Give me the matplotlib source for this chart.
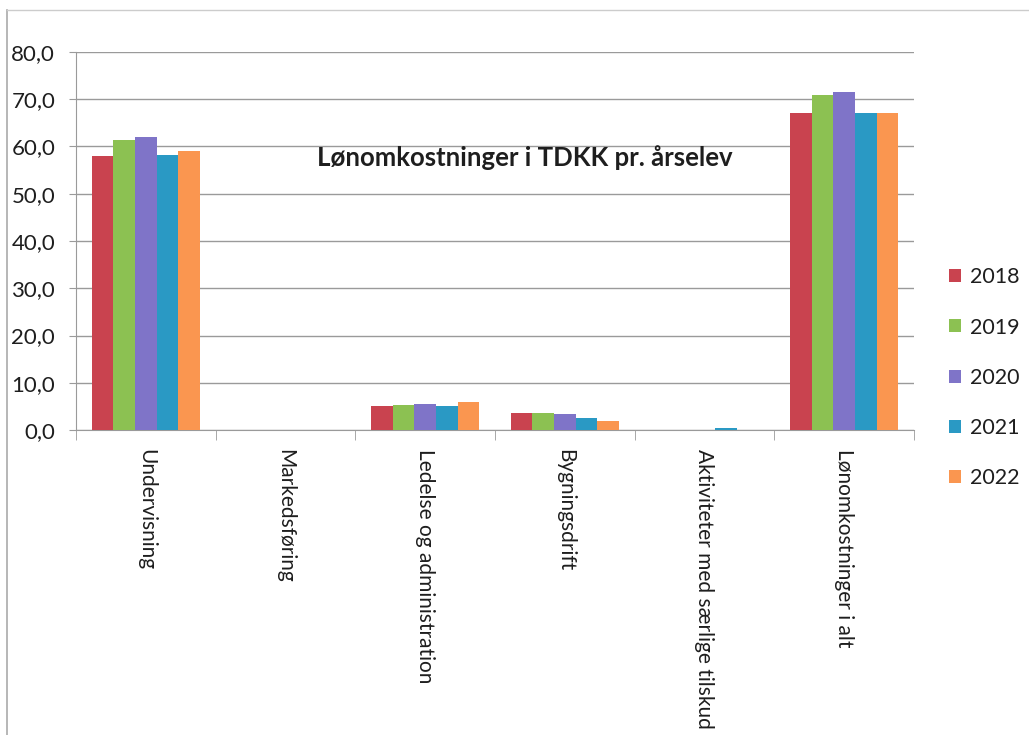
import numpy as np
import matplotlib
matplotlib.use("Agg")
import matplotlib.pyplot as plt
from matplotlib.patches import Patch
from matplotlib.lines import Line2D

# Salary costs per full-year student (TDKK), by area and year
categories = ["Undervisning", "Markedsføring", "Ledelse og administration",
              "Bygningsdrift", "Aktiviteter med særlige tilskud", "Lønomkostninger i alt"]
years = ["2018", "2019", "2020", "2021", "2022"]
v2018 = [57.9, 0.0, 5.1, 3.7, 0.0, 67.1]
v2019 = [61.4, 0.0, 5.3, 3.7, 0.0, 70.8]
v2020 = [62.0, 0.0, 5.6, 3.4, 0.0, 71.5]
v2021 = [58.3, 0.0, 5.1, 2.5, 0.4, 67.0]
v2022 = [59.0, 0.0, 5.9, 1.8, 0.0, 67.0]
yticks = [0, 10, 20, 30, 40, 50, 60, 70, 80]

series = [v2018, v2019, v2020, v2021, v2022]
colors = ["#C9434F", "#8CC152", "#7F74C8", "#2A99C4", "#FA9650"]
txt = "#1e1e1e"

plt.rcParams["font.family"] = ["Lato", "DejaVu Sans"]

fig = plt.figure(figsize=(10.29, 7.35), dpi=100)
W, H = 1029, 735
ax = fig.add_axes([76 / W, 1 - 430 / H, (914 - 76) / W, (430 - 52) / H])

x = np.arange(len(categories))
bw = 0.155
for i, (vals, c) in enumerate(zip(series, colors)):
    ax.bar(x + (i - 2) * bw, vals, width=bw, color=c, label=years[i], zorder=3)

ax.set_xlim(-0.5, len(categories) - 0.5)
ax.set_ylim(0, 80)
ax.set_yticks(yticks)
ax.set_yticklabels([f"{t:.1f}".replace(".", ",") for t in yticks],
                   fontsize=16, color=txt)
ax.yaxis.grid(True, color="#9a9a9a", linewidth=1, zorder=0)
ax.tick_params(axis="y", length=5, color="#9a9a9a", pad=10)

ax.set_xticks(x)
ax.set_xticklabels(categories, rotation=-90, fontsize=15, color=txt, va="top")
ax.set_xticks(np.arange(len(categories) + 1) - 0.5, minor=True)
ax.tick_params(axis="x", which="major", length=0, pad=14)
ax.tick_params(axis="x", which="minor", length=7, color="#9a9a9a")

for s in ["top", "right"]:
    ax.spines[s].set_visible(False)
for s in ["left", "bottom"]:
    ax.spines[s].set_color("#9a9a9a")

ax.text(0.535, 0.72, "Lønomkostninger i TDKK pr. årselev", transform=ax.transAxes,
        ha="center", va="center", fontsize=18.5, fontweight="bold", color=txt)

handles = [Patch(facecolor=c, edgecolor="none") for c in colors]
fig.legend(handles, years, loc="upper left", bbox_to_anchor=(930 / W, 1 - 248 / H),
           frameon=False, prop={"size": 15.5},
           handlelength=0.55, handleheight=0.55,
           handletextpad=0.4, labelspacing=1.4, labelcolor=txt)

# thin frame around the chart area
fig.add_artist(Line2D([7 / W, 7 / W], [0, 1 - 10 / H], transform=fig.transFigure,
                      color="#aaaaaa", linewidth=1.2))
fig.add_artist(Line2D([7 / W, 1], [1 - 10 / H, 1 - 10 / H], transform=fig.transFigure,
                      color="#cccccc", linewidth=1.0))

fig.savefig("out.png", dpi=100)
